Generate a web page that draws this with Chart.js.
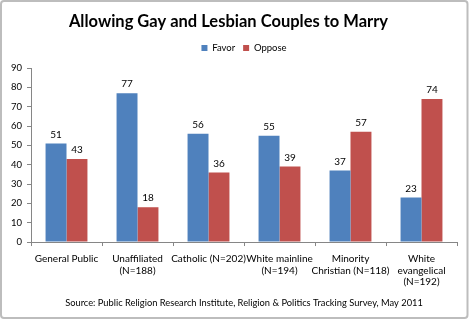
<!DOCTYPE html>
<html>
<head>
<meta charset="utf-8">
<script src="https://cdn.jsdelivr.net/npm/chart.js@4"></script>
<style>
  html, body { margin: 0; padding: 0; background: #fff; }
  #wrap { position: relative; width: 470px; height: 321px; }
  canvas { display: block; }
</style>
</head>
<body>
<div id="wrap"><canvas id="c" width="470" height="321"></canvas></div>
<script>
// Survey groups and responses (percent)
const groups = [
  'General Public',
  ['Unaffiliated', '(N=188)'],
  'Catholic (N=202)',
  ['White mainline', '(N=194)'],
  ['Minority', 'Christian (N=118)'],
  ['White', 'evangelical', '(N=192)']
];
const favor = [51, 77, 56, 55, 37, 23];
const oppose = [43, 18, 36, 39, 57, 74];
const yTicks = [0, 10, 20, 30, 40, 50, 60, 70, 80, 90];

const FONT = 'Lato, "Open Sans", sans-serif';

// Value labels drawn above each bar
const valueLabels = {
  id: 'valueLabels',
  afterDatasetsDraw(chart) {
    const ctx = chart.ctx;
    ctx.save();
    ctx.font = '10px ' + FONT;
    ctx.fillStyle = '#000';
    ctx.textAlign = 'center';
    ctx.textBaseline = 'middle';
    chart.data.datasets.forEach((ds, i) => {
      chart.getDatasetMeta(i).data.forEach((bar, j) => {
        ctx.fillText(String(ds.data[j]), bar.x, bar.y - 9);
      });
    });
    ctx.restore();
  }
};

// Extra room between the legend and the plot
const legendGap = {
  id: 'legendGap',
  beforeLayout(chart) {
    const lg = chart.legend;
    if (lg && !lg._gapPatched) {
      const fit = lg.fit;
      lg.fit = function () {
        fit.call(this);
        this.height += 5.25;
      };
      lg._gapPatched = true;
    }
  }
};

// Rounded frame around the whole chart
const frame = {
  id: 'frame',
  beforeDraw(chart) {
    const ctx = chart.ctx;
    ctx.save();
    ctx.fillStyle = '#fff';
    ctx.fillRect(0, 0, chart.width, chart.height);
    ctx.strokeStyle = '#bdbdbd';
    ctx.lineWidth = 2;
    ctx.beginPath();
    ctx.roundRect(1, 1, 466.5, 317, 3);
    ctx.stroke();
    ctx.restore();
  }
};

new Chart(document.getElementById('c'), {
  type: 'bar',
  data: {
    labels: groups,
    datasets: [
      { label: 'Favor', data: favor, backgroundColor: '#4F81BD' },
      { label: 'Oppose', data: oppose, backgroundColor: '#C0504D' }
    ]
  },
  options: {
    responsive: false,
    animation: false,
    devicePixelRatio: 1,
    layout: { padding: { left: 0, right: 13, top: 0, bottom: 12.4 } },
    datasets: { bar: { categoryPercentage: 0.59, barPercentage: 1 } },
    plugins: {
      title: {
        display: true,
        text: 'Allowing Gay and Lesbian Couples to Marry',
        color: '#000',
        font: { family: FONT, size: 16.5, weight: 'bold' },
        padding: { top: 11.6, bottom: 3.85 }
      },
      legend: {
        display: true,
        fullSize: false,
        labels: {
          boxWidth: 6, boxHeight: 6, padding: 8,
          color: '#000',
          font: { family: FONT, size: 9.5 }
        }
      },
      subtitle: {
        display: true,
        position: 'bottom',
        fullSize: false,
        text: 'Source: Public Religion Research Institute, Religion & Politics Tracking Survey, May 2011',
        color: '#000',
        font: { family: FONT, size: 9.3 },
        padding: { top: 0, bottom: 0 }
      },
      tooltip: { enabled: false }
    },
    scales: {
      x: {
        afterFit(scale) { scale.height = 55.4; },
        grid: { display: true, drawOnChartArea: false, drawTicks: true, tickLength: 4, color: '#868686', offset: true },
        border: { color: '#868686' },
        ticks: {
          color: '#000', font: { family: FONT, size: 10, lineHeight: 1.15 },
          maxRotation: 0, autoSkip: false, padding: 7.25
        }
      },
      y: {
        min: 0, max: 90,
        afterFit(scale) { scale.width = 31; },
        afterBuildTicks(scale) { scale.ticks = yTicks.map(v => ({ value: v })); },
        grid: { display: true, drawOnChartArea: false, drawTicks: true, tickLength: 4, color: '#868686' },
        border: { color: '#868686' },
        ticks: { color: '#000', font: { family: FONT, size: 9.5 }, padding: 5 }
      }
    }
  },
  plugins: [frame, legendGap, valueLabels]
});
</script>
</body>
</html>
